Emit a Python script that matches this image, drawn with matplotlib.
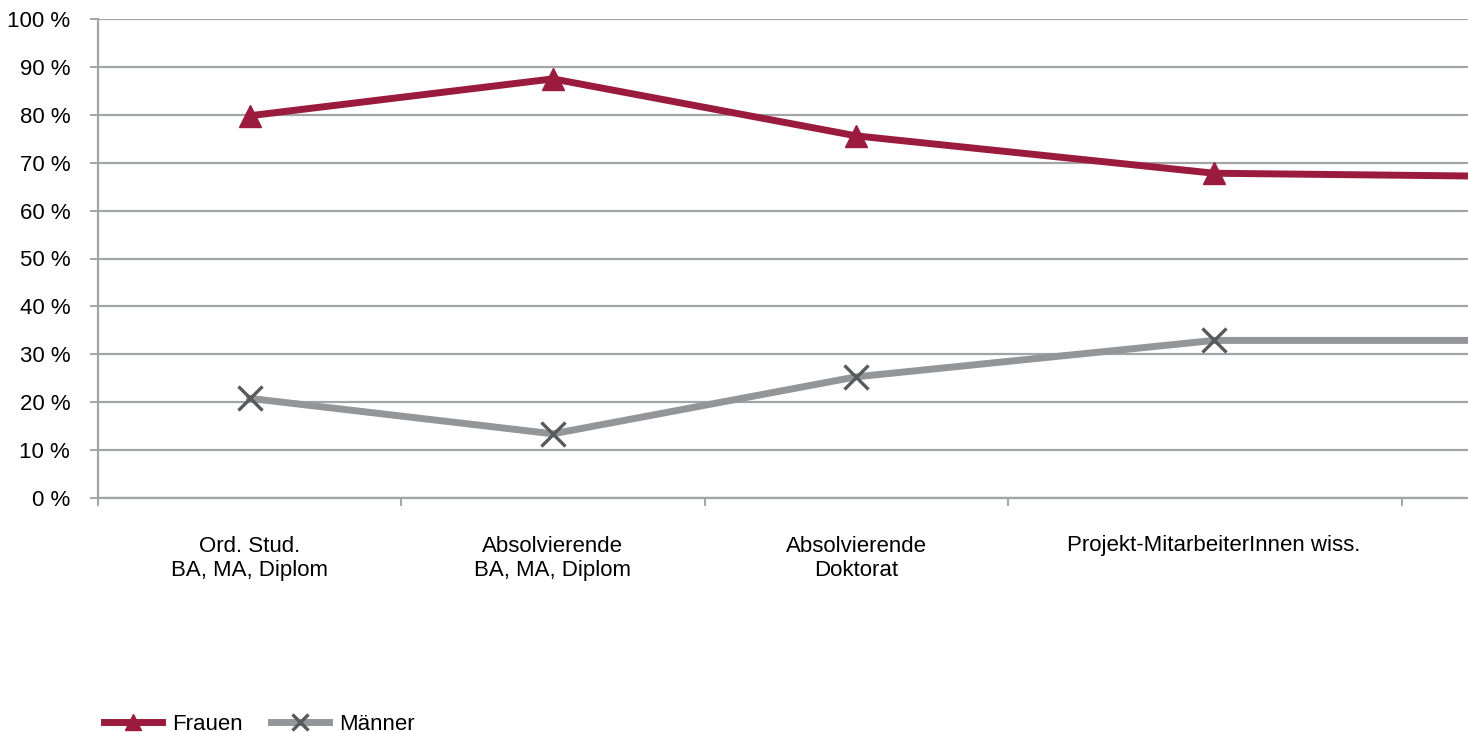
import matplotlib
matplotlib.use("Agg")
import matplotlib.pyplot as plt
from matplotlib.ticker import FixedLocator, FuncFormatter

plt.rcParams['font.family'] = ['Liberation Sans', 'DejaVu Sans']

categories = ["Ord. Stud.\nBA, MA, Diplom",
              "Absolvierende\nBA, MA, Diplom",
              "Absolvierende\nDoktorat",
              "Projekt-MitarbeiterInnen wiss.",
              ""]
frauen = [79.8, 87.5, 75.6, 67.8, 67.0]
maenner = [20.8, 13.4, 25.3, 32.9, 32.9]
y_ticks = list(range(0, 101, 10))

# layout: category centres / boundaries (the last category is wider and cut off)
x_centers = [0.5, 1.5, 2.5, 3.68, 4.85]
x_bounds = [0, 1, 2, 3, 4.3]

red = "#9b1b3e"
gray_line = "#939598"
gray_marker = "#58595b"
grid_col = "#a3a4a7"

fig = plt.figure(figsize=(14.68, 7.32), dpi=100)
W, H = 1468, 732
left, right, top, bottom = 98, 1468, 19, 498
ax = fig.add_axes([left / W, (H - bottom) / H, (right - left) / W, (bottom - top) / H])

ax.plot(x_centers, frauen, color=red, lw=5, marker='^', ms=16,
        mfc=red, mec=red, label="Frauen", solid_joinstyle='round', clip_on=True)
ax.plot(x_centers, maenner, color=gray_line, lw=5, marker='x', ms=17,
        mew=2.4, mec=gray_marker, label="Männer", clip_on=True)

ax.set_xlim(0, (right - left) / 303.3)
ax.set_ylim(0, 100)

ax.yaxis.set_major_locator(FixedLocator(y_ticks))
ax.yaxis.set_major_formatter(FuncFormatter(lambda v, p: f"{int(v)} %"))
ax.grid(axis='y', color=grid_col, lw=1.6)
ax.set_axisbelow(True)

ax.set_xticks(x_centers[:4])
ax.set_xticklabels(categories[:4])
ax.xaxis.set_minor_locator(FixedLocator(x_bounds))
ax.tick_params(axis='x', which='major', length=0, pad=27, labelsize=16)
ax.tick_params(axis='x', which='minor', length=6, width=1.4, color=grid_col, direction='out')
ax.tick_params(axis='y', length=6, width=1.4, color=grid_col, pad=14, labelsize=16)

for s in ['top', 'right']:
    ax.spines[s].set_visible(False)
for s in ['left', 'bottom']:
    ax.spines[s].set_color(grid_col)
    ax.spines[s].set_linewidth(1.6)

fig.legend(loc='lower left', bbox_to_anchor=(95 / W, -0.016), ncol=2, frameon=False,
           fontsize=16, handlelength=2.6, handletextpad=0.45, columnspacing=1.3,
           borderaxespad=0.0, markerscale=0.7)

fig.savefig("out.png", dpi=100)
